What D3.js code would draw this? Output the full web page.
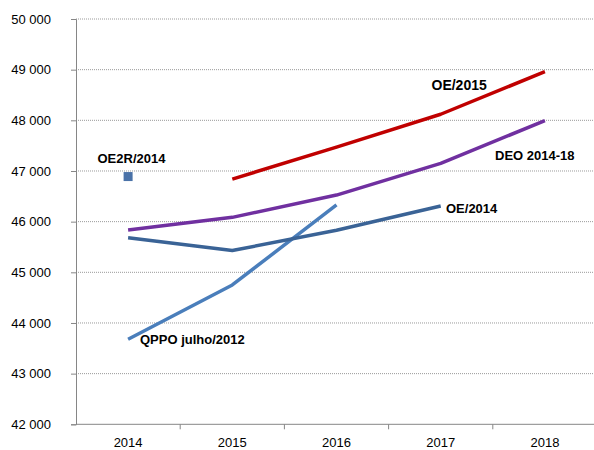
<!DOCTYPE html>
<html>
<head>
<meta charset="utf-8">
<script src="https://cdn.jsdelivr.net/npm/d3@7"></script>
<style>
  html, body { margin: 0; padding: 0; background: #fff; }
  svg { display: block; font-family: "Liberation Sans", Arial, sans-serif; }
</style>
</head>
<body>
<svg id="chart" width="594" height="450"></svg>
<script>
// Years on the horizontal axis
const years = ["2014", "2015", "2016", "2017", "2018"];
// Y-axis ticks
const yTicks = [42000, 43000, 44000, 45000, 46000, 47000, 48000, 49000, 50000];

// Series (null = no value for that year)
const qppo2012 = [43680, 44750, 46330, null, null];
const oe2014   = [45680, 45430, 45830, 46310, null];
const deo1418  = [45835, 46085, 46525, 47150, 47995];
const oe2015   = [null, 46840, 47470, 48120, 48960];
const oe2r2014 = [46890, null, null, null, null];

const series = [
  { name: "QPPO julho/2012", values: qppo2012, color: "#4A7EBB" },
  { name: "OE/2014",         values: oe2014,   color: "#3A6396" },
  { name: "DEO 2014-18",     values: deo1418,  color: "#7030A0" },
  { name: "OE/2015",         values: oe2015,   color: "#C00000" }
];

const svg = d3.select("#chart");
const plotLeft = 76, plotRight = 597, plotTop = 19, plotBottom = 424.3;

const x = d3.scaleBand().domain(years).range([plotLeft, plotRight]).padding(0);
const cx = d => x(d) + x.bandwidth() / 2;
const y = d3.scaleLinear().domain([42000, 50000]).range([plotBottom, plotTop]);

const fmt = v => d3.format(",")(v).replace(/,/g, " ");

// Dotted horizontal gridlines
svg.append("g")
  .selectAll("line")
  .data(yTicks.filter(t => t > 42000))
  .join("line")
  .attr("x1", plotLeft).attr("x2", 594)
  .attr("y1", d => y(d)).attr("y2", d => y(d))
  .attr("stroke", "#9a9a9a")
  .attr("stroke-width", 1)
  .attr("stroke-dasharray", "1,1");

// Y axis
const yAxis = svg.append("g")
  .attr("transform", `translate(${plotLeft},0)`)
  .call(d3.axisLeft(y).tickValues(yTicks).tickSize(5).tickPadding(20).tickFormat(fmt));
yAxis.select(".domain").attr("stroke", "#868686");
yAxis.selectAll(".tick line").attr("stroke", "#868686");
yAxis.selectAll("text")
  .attr("font-size", "13px")
  .attr("font-family", "'Liberation Sans', Arial, sans-serif")
  .attr("fill", "#000");

// X axis: baseline, boundary ticks, centred labels
const xg = svg.append("g");
xg.append("line")
  .attr("x1", plotLeft).attr("x2", 594)
  .attr("y1", plotBottom).attr("y2", plotBottom)
  .attr("stroke", "#868686");
xg.selectAll("line.bt")
  .data(years.slice(1))
  .join("line")
  .attr("class", "bt")
  .attr("x1", d => x(d)).attr("x2", d => x(d))
  .attr("y1", plotBottom).attr("y2", plotBottom + 5)
  .attr("stroke", "#868686");
xg.selectAll("text")
  .data(years)
  .join("text")
  .attr("x", d => cx(d))
  .attr("y", plotBottom + 22.5)
  .attr("text-anchor", "middle")
  .attr("font-size", "13px")
  .attr("fill", "#000")
  .text(d => d);

// Lines
const line = d3.line()
  .defined(d => d.v != null)
  .x(d => cx(d.year))
  .y(d => y(d.v));

svg.append("g")
  .selectAll("path")
  .data(series)
  .join("path")
  .attr("d", s => line(years.map((yr, i) => ({ year: yr, v: s.values[i] }))))
  .attr("fill", "none")
  .attr("stroke", s => s.color)
  .attr("stroke-width", 3.5)
  .attr("stroke-linejoin", "round");

// Single point: OE2R/2014
svg.append("g")
  .selectAll("rect")
  .data(years.map((yr, i) => ({ year: yr, v: oe2r2014[i] })).filter(d => d.v != null))
  .join("rect")
  .attr("x", d => cx(d.year) - 4.5)
  .attr("y", d => y(d.v) - 4.5)
  .attr("width", 9).attr("height", 9)
  .attr("fill", "#4A72A8");

// Series labels
const labels = [
  { text: "OE2R/2014",       x: 97.5, y: 162.5, size: 13 },
  { text: "OE/2015",         x: 431.5, y: 90,   size: 14 },
  { text: "DEO 2014-18",     x: 495,   y: 159.5, size: 13 },
  { text: "OE/2014",         x: 446,   y: 212.5, size: 13 },
  { text: "QPPO julho/2012", x: 140,   y: 343.5, size: 13 }
];
svg.append("g")
  .selectAll("text")
  .data(labels)
  .join("text")
  .attr("x", d => d.x)
  .attr("y", d => d.y)
  .attr("font-size", d => d.size + "px")
  .attr("font-weight", "bold")
  .attr("fill", "#000")
  .text(d => d.text);
</script>
</body>
</html>
